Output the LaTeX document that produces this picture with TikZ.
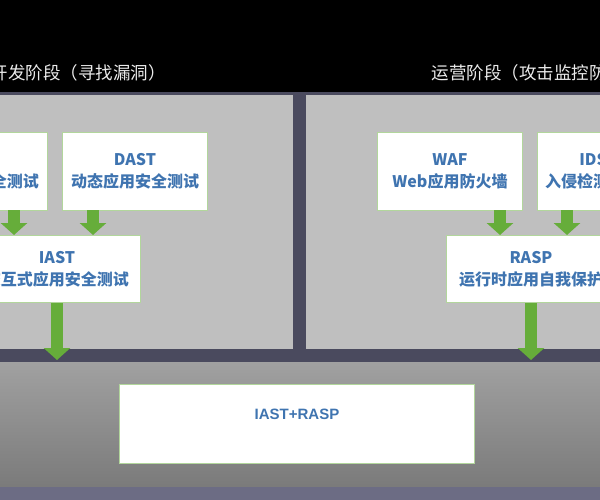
\documentclass[tikz,border=0pt]{standalone}
\usepackage{fontspec}
\setmainfont{Liberation Sans}
\newfontfamily\cjk{Noto Sans CJK SC}
\usetikzlibrary{arrows.meta}
\definecolor{txtblue}{HTML}{3F74B0}
\definecolor{agreen}{HTML}{66AD3A}
\definecolor{slate}{HTML}{4A4A5E}
\definecolor{lslate}{HTML}{6C6C84}
\begin{document}
\begin{tikzpicture}[x=1pt,y=-1pt,
  box/.style={draw=agreen!50,line width=0.8pt,fill=white,inner sep=0pt,align=center,
    font=\cjk\bfseries\fontsize{16}{22}\selectfont,text=txtblue},
  garrow/.style={agreen,line width=12pt,-{Triangle[width=26pt,length=12pt]}}]
\useasboundingbox (0,0) rectangle (600,500);
\clip (0,0) rectangle (600,500);
\fill[black] (0,0) rectangle (600,500);
\fill[slate] (0,92) rectangle (600,362);
\fill[black!25] (0,95) rectangle (293,349);
\fill[black!25] (306,95) rectangle (600,349);
\shade[top color=black!37,bottom color=black!52] (0,362) rectangle (600,487);
\fill[lslate] (0,487) rectangle (600,500);
\node[anchor=west,text=white!92!black,font=\cjk\fontsize{17.5}{20}\selectfont] (t1) at (-13,73) {开发阶段（寻找漏洞）};
\node[anchor=west,text=white!92!black,font=\cjk\fontsize{17.5}{20}\selectfont] (t2) at (428,73) {运营阶段（攻击监控防御）};
\node[box,minimum width=145pt,minimum height=78pt] (sast) at (-25,171) {SAST\\静态应用安全测试};
\node[box,minimum width=145pt,minimum height=78pt] (dast) at (135,171) {DAST\\动态应用安全测试};
\node[box,minimum width=166pt,minimum height=67pt] (iast) at (57,269) {IAST\\交互式应用安全测试};
\node[box,minimum width=145pt,minimum height=78pt] (waf) at (450,171) {WAF\\Web应用防火墙};
\node[box,minimum width=112pt,minimum height=78pt] (ids) at (593,171) {IDS\\入侵检测系统};
\node[box,minimum width=170pt,minimum height=67pt] (rasp) at (531,269) {RASP\\运行时应用自我保护};
\node[box,minimum width=355pt,minimum height=79pt,text depth=20pt,font=\bfseries\fontsize{15}{18}\selectfont] (both) at (297,424) {IAST+RASP};
\coordinate (sa) at (14,210); \coordinate (sb) at (14,235);
\coordinate (da) at (93,210); \coordinate (db) at (93,235);
\coordinate (wa) at (500,210); \coordinate (wb) at (500,235);
\coordinate (ia) at (567,210); \coordinate (ib) at (567,235);
\draw[garrow] (sa) -- (sb);
\draw[garrow] (da) -- (db);
\draw[garrow] (wa) -- (wb);
\draw[garrow] (ia) -- (ib);
\draw[garrow] (iast.south -| 57,0) -- (57,360);
\draw[garrow] (rasp.south) -- (531,360);
\end{tikzpicture}
\end{document}
